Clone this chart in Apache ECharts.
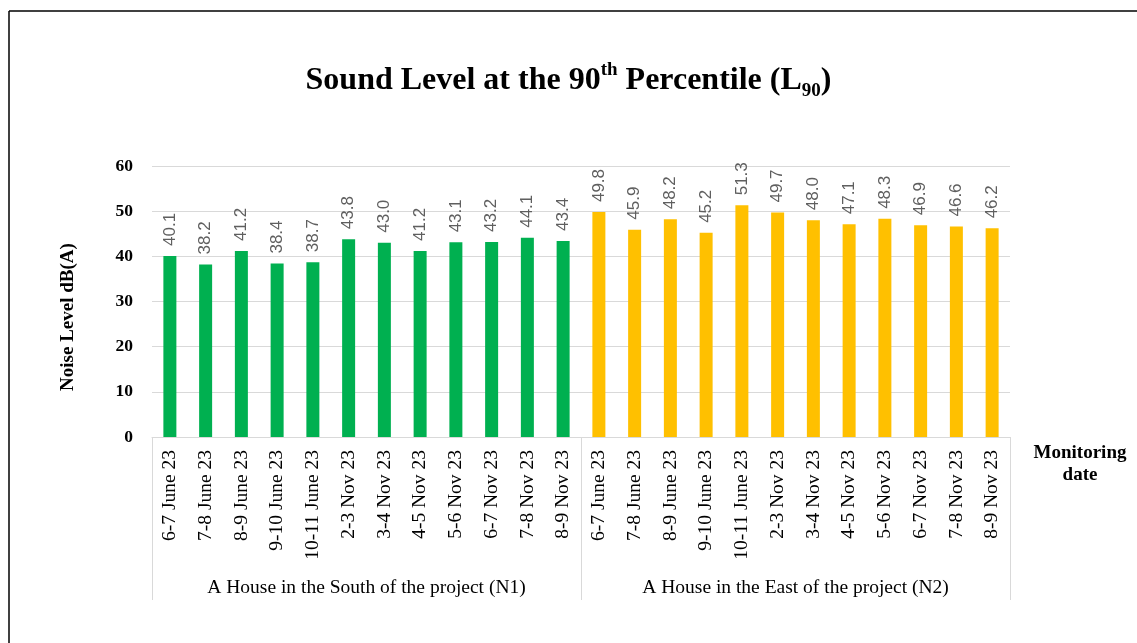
<!DOCTYPE html>
<html>
<head>
<meta charset="utf-8">
<title>Sound Level L90</title>
<script src="https://cdn.jsdelivr.net/npm/echarts@6/dist/echarts.min.js"></script>
<style>
  html, body { margin: 0; padding: 0; background: #fff; }
  #chart { width: 1137px; height: 643px; }
</style>
</head>
<body>
<div id="chart"></div>
<script>
// dates monitored at each house (same for both)
var dates = ['6-7 June 23', '7-8 June 23', '8-9 June 23', '9-10 June 23', '10-11 June 23',
  '2-3 Nov 23', '3-4 Nov 23', '4-5 Nov 23', '5-6 Nov 23', '6-7 Nov 23', '7-8 Nov 23', '8-9 Nov 23'];
var groups = ['A House in the South of the project (N1)', 'A House in the East of the project (N2)'];
var n1Values = [40.1, 38.2, 41.2, 38.4, 38.7, 43.8, 43.0, 41.2, 43.1, 43.2, 44.1, 43.4];
var n2Values = [49.8, 45.9, 48.2, 45.2, 51.3, 49.7, 48.0, 47.1, 48.3, 46.9, 46.6, 46.2];
var yTicks = [0, 10, 20, 30, 40, 50, 60];

var serif = '"Liberation Serif", "Times New Roman", serif';
var green = '#00B050', yellow = '#FFC000';

var cats = dates.concat(dates);
var barData = n1Values.map(function (v) {
  return { value: v, itemStyle: { color: green } };
}).concat(n2Values.map(function (v) {
  return { value: v, itemStyle: { color: yellow } };
}));

var chart = echarts.init(document.getElementById('chart'));
chart.setOption({
  animation: false,
  backgroundColor: '#fff',
  title: {
    text: '{a|Sound Level at the 90}{sup|th}{a| Percentile (L}{sub|90}{a|)}',
    left: 'center',
    top: 56,
    textStyle: {
      rich: {
        a: { fontFamily: serif, fontWeight: 'bold', fontSize: 32, color: '#000', lineHeight: 40 },
        sup: { fontFamily: serif, fontWeight: 'bold', fontSize: 19, color: '#000', lineHeight: 40, verticalAlign: 'top', padding: [0, 0, 13, 0] },
        sub: { fontFamily: serif, fontWeight: 'bold', fontSize: 19, color: '#000', lineHeight: 40, verticalAlign: 'bottom', padding: [9, 0, 0, 0] }
      }
    }
  },
  grid: { left: 152, right: 127, top: 166, bottom: 206 },
  xAxis: [{
    type: 'category',
    data: cats,
    axisLine: { lineStyle: { color: '#d9d9d9' } },
    axisTick: { show: false },
    axisLabel: {
      interval: 0, rotate: 90, margin: 13,
      fontFamily: serif, fontSize: 19.5, color: '#000'
    }
  }, {
    type: 'category',
    data: groups,
    position: 'bottom',
    axisLine: { show: false },
    axisTick: { show: true, length: 163, lineStyle: { color: '#d9d9d9' } },
    axisLabel: {
      interval: 0, margin: 141,
      fontFamily: serif, fontSize: 19.5, color: '#000'
    }
  }],
  yAxis: {
    type: 'value',
    min: yTicks[0], max: yTicks[yTicks.length - 1], interval: 10,
    axisLine: { show: false },
    axisTick: { show: false },
    axisLabel: { margin: 19, fontFamily: serif, fontWeight: 'bold', fontSize: 17.5, color: '#000' },
    splitLine: { lineStyle: { color: '#d9d9d9' } }
  },
  series: [{
    type: 'bar',
    data: barData,
    barWidth: 13,
    label: {
      show: true,
      position: 'top',
      rotate: 90,
      align: 'left',
      verticalAlign: 'middle',
      distance: 10,
      fontFamily: '"Liberation Sans", Arial, sans-serif',
      fontSize: 17,
      color: '#5f5f5f',
      formatter: function (p) { return p.value.toFixed(1); }
    }
  }],
  graphic: [
    { type: 'line', shape: { x1: 9, y1: 11, x2: 1137, y2: 11 }, style: { stroke: '#000', lineWidth: 1.5 } },
    { type: 'line', shape: { x1: 9, y1: 11, x2: 9, y2: 643 }, style: { stroke: '#000', lineWidth: 1.5 } },
    {
      type: 'text', x: 68, y: 317, rotation: Math.PI / 2,
      style: {
        text: 'Noise Level dB(A)', textAlign: 'center', textVerticalAlign: 'middle',
        font: 'bold 19px ' + serif, fill: '#000'
      }
    },
    {
      type: 'text', x: 1080, y: 442,
      style: {
        text: 'Monitoring\ndate', textAlign: 'center',
        font: 'bold 19px ' + serif, fill: '#000', lineHeight: 22
      }
    }
  ]
});
</script>
</body>
</html>
